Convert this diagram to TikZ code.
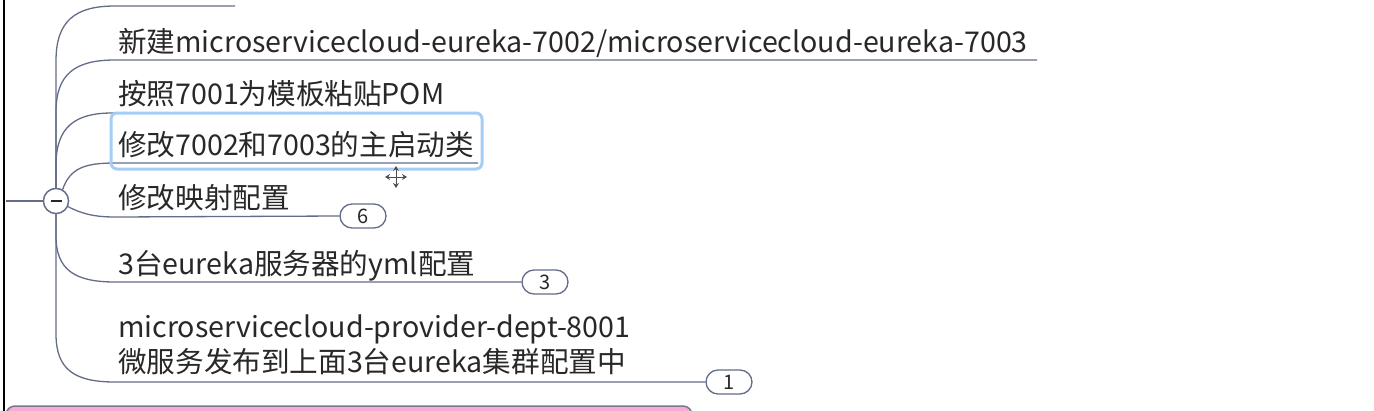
\documentclass[tikz,border=0pt]{standalone}
\usepackage{fontspec}
\setmainfont{Noto Sans CJK SC}
\usetikzlibrary{shapes.misc,arrows.meta}
\definecolor{branch}{RGB}{100,108,138}
\definecolor{txt}{RGB}{40,40,40}
\definecolor{selblue}{RGB}{165,205,245}
\definecolor{pinkfill}{RGB}{244,172,214}
\definecolor{pinkdraw}{RGB}{125,118,140}
\begin{document}
\begin{tikzpicture}[x=1pt,y=-1pt,
  topic/.style={anchor=base west, inner sep=0pt, font=\fontsize{28.6}{35}\selectfont, text=txt, align=left},
  branchline/.style={draw=branch, line width=1.3pt},
  bubble/.style={draw=branch, line width=1.3pt, fill=white, rounded rectangle, minimum width=46pt, minimum height=24pt, inner sep=0pt, font=\fontsize{20}{20}\selectfont, text=txt},
  hubstyle/.style={circle, draw=branch, line width=1.3pt, fill=white, minimum size=25pt, inner sep=0pt}]
\useasboundingbox (0,0) rectangle (1374,410);
\clip (0,0) rectangle (1374,410);
\fill[white] (0,0) rectangle (1374,410);

% pink box at bottom
\draw[pinkdraw, fill=pinkfill, line width=1.5pt, rounded corners=9pt] (6,406) rectangle (692,450);

% left border
\draw[black, line width=2.5pt] (4,-2) -- (4,412);
\coordinate (lin) at (6,201);

% hub
\node[hubstyle] (hub) at (56,201) {};

% text nodes
\node[topic] (t2) at (118,52) {新建microservicecloud-eureka-7002/microservicecloud-eureka-7003};
\node[topic] (t3) at (118,104) {按照7001为模板粘贴POM};
\node[topic] (t4) at (118,155) {修改7002和7003的主启动类};
\node[topic] (t5) at (118,208) {修改映射配置};
\node[topic] (t6) at (118,274) {3台eureka服务器的yml配置};
\node[topic] (t7a) at (118,337) {microservicecloud-provider-dept-8001};
\node[topic] (t7b) at (118,372) {微服务发布到上面3台eureka集群配置中};

% bubbles
\node[bubble] (b5) at (363,216) {6};
\node[bubble] (b6) at (545,282) {3};
\node[bubble] (b7) at (729,382) {1};

% underline end coordinates
\coordinate (e1) at (235,6);
\coordinate (e2) at (1037,60);
\coordinate (e3) at (452,113);
\coordinate (e4) at (478,163);

% branches
\draw[branchline] (lin) -- (hub.west);
\draw[branchline] (hub.north) -- (56,61) .. controls (56,21) and (75,6) .. (115,6) -- (e1);
\draw[branchline] (hub.north) -- (56,112) .. controls (56,74) and (75,60) .. (115,60) -- (e2);
\draw[branchline] (hub.north) -- (56,165) .. controls (56,127) and (75,113) .. (112,113) -- (e3);
\draw[branchline] (hub.60) .. controls (70,168) and (85,163) .. (115,163) -- (e4);
\draw[branchline] (hub.-25) .. controls (82,214) and (95,217) .. (115,217) -- (b5.west);
\draw[branchline] (hub.south) -- (56,236) .. controls (56,270) and (75,282) .. (115,282) -- (b6.west);
\draw[branchline] (hub.south) -- (56,334) .. controls (56,370) and (75,382) .. (115,382) -- (b7.west);

% redraw hub on top
\node[hubstyle] at (hub) {};
\draw[txt, line width=1.6pt] (50.5,201) -- (61.5,201);

% selection box
\draw[selblue, line width=3pt, rounded corners=6pt] (111,113) rectangle (482,169);

% move cursor
\begin{scope}[shift={(396,177)}]
  \foreach \a in {0,90,180,270}{
    \draw[white, line width=3pt, -{Stealth[length=6pt,width=8pt]}] (0,0) -- (\a:11);
  }
  \foreach \a in {0,90,180,270}{
    \draw[gray!60!black, line width=1pt, -{Stealth[length=5pt,width=6pt,open,fill=white]}] (0,0) -- (\a:11);
  }
\end{scope}
\end{tikzpicture}
\end{document}
